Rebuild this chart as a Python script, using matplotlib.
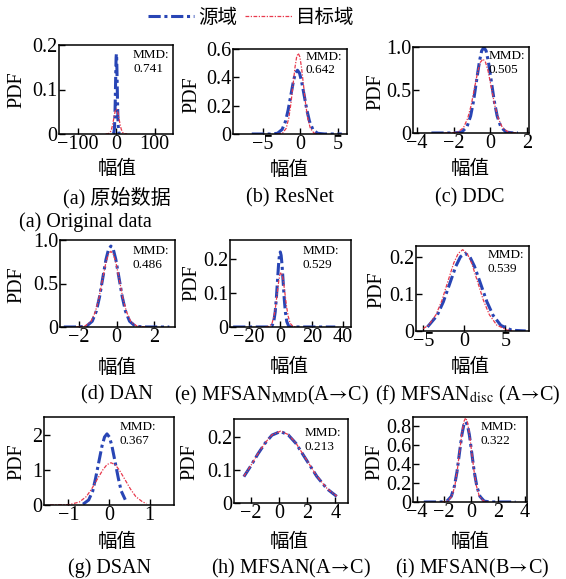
import matplotlib
matplotlib.use("Agg")
import matplotlib.pyplot as plt
from matplotlib.lines import Line2D

plt.rcParams['font.family'] = ['Liberation Serif', 'STIXGeneral', 'Noto Sans CJK SC', 'DejaVu Sans']
plt.rcParams['mathtext.fontset'] = 'stix'
plt.rcParams['axes.unicode_minus'] = True

W, H = 566, 579

# ---------------- data ----------------
legend_labels = ['源域', '目标域']
titles = ['(a) 原始数据', '(b) ResNet', '(c) DDC',
          '(d) DAN', r'(e) MFSAN$_{\mathrm{MMD}}$(A$\!\rightarrow\!$C)',
          r'(f) MFSAN$_{\mathrm{disc}}$ (A$\!\rightarrow\!$C)',
          '(g) DSAN', r'(h) MFSAN(A$\!\rightarrow\!$C)', r'(i) MFSAN(B$\!\rightarrow\!$C)']
mmd_values = ['0.741', '0.642', '0.505', '0.486', '0.529', '0.539', '0.367', '0.213', '0.322']

# (a) original data
a_src_x = [-8.8, -6.6, -5.1, -4.0, -3.1, -2.2, -1.3, -0.7, 0, 0.7, 1.3, 2.2, 3.1, 4.0, 5.1, 6.6, 8.8]
a_src_y = [0.0001, 0.002, 0.013, 0.036, 0.068, 0.109, 0.150, 0.172, 0.180, 0.172, 0.150, 0.109, 0.068, 0.036, 0.013, 0.002, 0.0001]
a_tgt_x = [-28, -21, -16, -12.6, -9.8, -7, -4.2, -2.1, 0, 2.1, 4.2, 7, 9.8, 12.6, 16, 21, 28]
a_tgt_y = [0, 0.0006, 0.004, 0.011, 0.021, 0.034, 0.047, 0.054, 0.056, 0.054, 0.047, 0.034, 0.021, 0.011, 0.004, 0.0006, 0]
# (b) ResNet
b_src_x = [-6.5, -4.0, -3.07, -2.45, -2.0, -1.65, -1.29, -0.93, -0.67, -0.4, -0.13, 0.13, 0.49, 0.85, 1.2, 1.65, 2.27, 3.2, 5.5]
b_src_y = [0, 0.0001, 0.005, 0.032, 0.089, 0.169, 0.273, 0.376, 0.430, 0.45, 0.430, 0.376, 0.273, 0.169, 0.089, 0.032, 0.005, 0.0001, 0]
b_tgt_x = [-3.1, -2.4, -1.91, -1.56, -1.28, -1.0, -0.72, -0.51, -0.3, -0.09, 0.12, 0.4, 0.68, 0.96, 1.31, 1.8, 2.5]
b_tgt_y = [0.0002, 0.006, 0.040, 0.113, 0.214, 0.346, 0.476, 0.545, 0.57, 0.545, 0.476, 0.346, 0.214, 0.113, 0.040, 0.006, 0.0002]
# (c) DDC
c_src_x = [-3.2, -1.95, -1.55, -1.27, -1.07, -0.91, -0.75, -0.59, -0.47, -0.35, -0.23, -0.11, 0.05, 0.21, 0.37, 0.57, 0.85, 1.25, 1.5]
c_src_y = [0, 0.0003, 0.011, 0.071, 0.198, 0.375, 0.607, 0.835, 0.956, 0.995, 0.956, 0.835, 0.607, 0.375, 0.198, 0.071, 0.011, 0.0003, 0]
c_tgt_x = [-2.5, -2.24, -1.78, -1.46, -1.23, -1.04, -0.86, -0.68, -0.54, -0.4, -0.26, -0.12, 0.06, 0.24, 0.43, 0.66, 0.98, 1.44]
c_tgt_y = [0, 0.0003, 0.009, 0.061, 0.170, 0.323, 0.522, 0.718, 0.822, 0.86, 0.822, 0.718, 0.522, 0.323, 0.170, 0.061, 0.009, 0.0003]
# (d) DAN
d_src_x = [-2.8, -2.02, -1.59, -1.29, -1.07, -0.90, -0.73, -0.56, -0.43, -0.3, -0.17, -0.04, 0.13, 0.30, 0.47, 0.69, 0.99, 1.42, 2.8]
d_src_y = [0, 0.0003, 0.010, 0.066, 0.184, 0.349, 0.565, 0.777, 0.889, 0.93, 0.889, 0.777, 0.565, 0.349, 0.184, 0.066, 0.010, 0.0003, 0]
d_tgt_x = [-2.14, -1.68, -1.36, -1.13, -0.94, -0.76, -0.58, -0.44, -0.3, -0.16, -0.02, 0.16, 0.34, 0.53, 0.76, 1.08, 1.54]
d_tgt_y = [0.0003, 0.010, 0.062, 0.172, 0.326, 0.528, 0.726, 0.832, 0.87, 0.832, 0.726, 0.528, 0.326, 0.172, 0.062, 0.010, 0.0003]
# (e) MFSAN_MMD
e_src_x = [-30, -7.2, -5.4, -4.14, -3.24, -2.52, -1.8, -1.08, -0.54, 0, 0.54, 1.08, 1.8, 2.52, 3.24, 4.14, 5.4, 7.2, 35]
e_src_y = [0, 0.0001, 0.002, 0.016, 0.044, 0.083, 0.134, 0.184, 0.210, 0.22, 0.210, 0.184, 0.134, 0.083, 0.044, 0.016, 0.002, 0.0001, 0]
e_tgt_x = [-9.5, -7.0, -5.25, -4.0, -3.0, -2.0, -1.0, -0.25, 0.5, 1.25, 2.0, 3.0, 4.0, 5.0, 6.25, 8.0, 10.5]
e_tgt_y = [0, 0.002, 0.011, 0.032, 0.060, 0.097, 0.134, 0.153, 0.16, 0.153, 0.134, 0.097, 0.060, 0.032, 0.011, 0.002, 0]
# (f) MFSAN_disc
f_src_x = [-4.5, -3.32, -2.56, -1.8, -1.04, -0.47, 0.1, 0.67, 1.24, 2.0, 2.76, 3.52, 4.47, 5.8, 7.5]
f_src_y = [0.011, 0.042, 0.079, 0.127, 0.175, 0.201, 0.21, 0.201, 0.175, 0.127, 0.079, 0.042, 0.015, 0.002, 0.0001]
f_tgt_x = [-5.0, -4.36, -3.46, -2.73, -2.01, -1.29, -0.74, -0.2, 0.34, 0.89, 1.61, 2.33, 3.06, 3.96, 5.23, 6.0]
f_tgt_y = [0.0066, 0.016, 0.044, 0.083, 0.134, 0.184, 0.210, 0.22, 0.210, 0.184, 0.134, 0.083, 0.044, 0.016, 0.0024, 0.0006]
# (g) DSAN
g_src_x = [-0.64, -0.50, -0.40, -0.33, -0.25, -0.17, -0.11, -0.05, 0.01, 0.07, 0.15, 0.23, 0.30, 0.40]
g_src_y = [0.022, 0.143, 0.40, 0.758, 1.226, 1.687, 1.931, 2.02, 1.931, 1.687, 1.226, 0.758, 0.40, 0.15]
g_tgt_x = [-1.45, -0.97, -0.73, -0.56, -0.43, -0.29, -0.15, -0.05, 0.05, 0.15, 0.25, 0.39, 0.53, 0.66, 0.83, 0.92]
g_tgt_y = [0, 0.013, 0.085, 0.238, 0.45, 0.728, 1.002, 1.147, 1.2, 1.147, 1.002, 0.728, 0.45, 0.238, 0.085, 0.045]
# (h) MFSAN(A->C)
h_src_x = [-2.5, -2.0, -1.5, -1.0, -0.5, 0.1, 0.65, 1.2, 1.94, 2.68, 3.41, 4.1]
h_src_y = [0.080, 0.113, 0.149, 0.181, 0.206, 0.217, 0.207, 0.181, 0.131, 0.081, 0.043, 0.020]
h_tgt_x = [-2.5, -2.0, -1.5, -1.0, -0.5, 0.1, 0.65, 1.2, 1.94, 2.68, 3.41, 4.1]
h_tgt_y = [0.081, 0.114, 0.150, 0.182, 0.207, 0.218, 0.208, 0.182, 0.132, 0.082, 0.044, 0.021]
# (i) MFSAN(B->C)
i_src_x = [-3.5, -2.24, -1.78, -1.46, -1.23, -1.04, -0.86, -0.68, -0.54, -0.4, -0.26, -0.12, 0.06, 0.24, 0.43, 0.66, 0.98, 1.44, 3.3]
i_src_y = [0, 0.0003, 0.009, 0.060, 0.168, 0.319, 0.516, 0.710, 0.813, 0.85, 0.813, 0.710, 0.516, 0.319, 0.168, 0.060, 0.009, 0.0003, 0]
i_tgt_x = [-2.16, -1.72, -1.41, -1.19, -1.02, -0.84, -0.66, -0.53, -0.4, -0.27, -0.14, 0.04, 0.22, 0.39, 0.61, 0.92, 1.36]
i_tgt_y = [0.0003, 0.010, 0.063, 0.176, 0.334, 0.540, 0.743, 0.851, 0.89, 0.851, 0.743, 0.540, 0.334, 0.176, 0.063, 0.010, 0.0003]

src_x = [a_src_x, b_src_x, c_src_x, d_src_x, e_src_x, f_src_x, g_src_x, h_src_x, i_src_x]
src_y = [a_src_y, b_src_y, c_src_y, d_src_y, e_src_y, f_src_y, g_src_y, h_src_y, i_src_y]
tgt_x = [a_tgt_x, b_tgt_x, c_tgt_x, d_tgt_x, e_tgt_x, f_tgt_x, g_tgt_x, h_tgt_x, i_tgt_x]
tgt_y = [a_tgt_y, b_tgt_y, c_tgt_y, d_tgt_y, e_tgt_y, f_tgt_y, g_tgt_y, h_tgt_y, i_tgt_y]

x_ticks = [[-100, 0, 100], [-5, 0, 5], [-4, -2, 0, 2], [-2, 0, 2], [-20, 0, 20, 40],
           [-5, 0, 5], [-1, 0, 1], [-2, 0, 2, 4], [-4, -2, 0, 2, 4]]
y_ticks = [[0, 0.1, 0.2], [0, 0.2, 0.4, 0.6], [0, 0.5, 1.0], [0, 0.5, 1.0], [0, 0.1, 0.2],
           [0, 0.1, 0.2], [0, 1, 2], [0, 0.1, 0.2], [0, 0.2, 0.4, 0.6, 0.8]]
y_ticklabels = [['0', '0.1', '0.2'], ['0', '0.2', '0.4', '0.6'], ['0', '0.5', '1.0'], ['0', '0.5', '1.0'],
                ['0', '0.1', '0.2'], ['0', '0.1', '0.2'], ['0', '1', '2'], ['0', '0.1', '0.2'],
                ['0', '0.2', '0.4', '0.6', '0.8']]
x_lims = [(-150, 148), (-9, 6.2), (-4.2, 2.1), (-3.0, 3.1), (-32, 45), (-5.9, 7.9),
          (-1.6, 1.6), (-3.2, 4.9), (-4.3, 4.15)]
y_lims = [(0, 0.2), (0, 0.6), (0, 1.0), (0, 1.0), (0, 0.255), (0, 0.23), (0, 2.5), (0, 0.255), (0, 0.9)]

# ---------------- layout (pixels) ----------------
boxes = [(59, 45, 173, 134), (233, 49, 347, 134), (413, 47, 529, 133),
         (60, 240, 175, 327), (230, 240, 351, 327), (416, 246, 529, 331),
         (44, 417, 174, 505), (234, 419, 348, 503), (413, 417, 527, 502)]
mmd_pos = [(0.65, 0.95), (0.64, 0.98), (0.65, 0.96), (0.63, 0.94), (0.60, 0.94),
           (0.63, 0.96), (0.58, 0.95), (0.62, 0.90), (0.59, 0.95)]
ylabel_pos = [(17, 90), (192, 95), (376, 92), (17, 285), (192, 283), (377, 290),
              (17, 462), (190, 462), (375, 462)]
xlabel_pos = [(117, 169), (289, 170), (470, 169), (117, 368), (289, 367), (470, 367),
              (117, 542), (289, 542), (470, 542)]
title_pos = [(117, 198), (290, 198), (470, 198), (117, 395), (272, 395), (468, 395),
             (110, 568), (291, 568), (472, 568)]

BLUE = '#2845b5'
RED = '#e8394d'

fig = plt.figure(figsize=(W / 100, H / 100), dpi=100)

for k in range(9):
    L, T, R, B = boxes[k]
    ax = fig.add_axes([L / W, 1 - B / H, (R - L) / W, (B - T) / H])
    ax.plot(src_x[k], src_y[k], linestyle=(0, (4.0, 1.2, 1.0, 1.2)), color=BLUE, lw=2.2)
    ax.plot(tgt_x[k], tgt_y[k], linestyle=(0, (3.0, 1.2, 1.0, 1.2)), color=RED, lw=0.9)
    ax.set_xlim(*x_lims[k])
    ax.set_ylim(*y_lims[k])
    ax.set_xticks(x_ticks[k])
    ax.set_yticks(y_ticks[k])
    ax.set_yticklabels(y_ticklabels[k])
    ax.tick_params(direction='in', length=4, width=1, labelsize=14.5, pad=1)
    for s in ax.spines.values():
        s.set_linewidth(1.1)
    ax.text(mmd_pos[k][0], mmd_pos[k][1], 'MMD:\n' + mmd_values[k], transform=ax.transAxes,
            ha='left', va='top', fontsize=9.5, linespacing=1.15)
    fig.text(ylabel_pos[k][0] / W, 1 - ylabel_pos[k][1] / H, 'PDF', rotation=90,
             ha='center', va='center', fontsize=14.5)
    fig.text(xlabel_pos[k][0] / W, 1 - xlabel_pos[k][1] / H, '幅值',
             ha='center', va='center', fontsize=14)
    fig.text(title_pos[k][0] / W, 1 - title_pos[k][1] / H, titles[k],
             ha='center', va='center', fontsize=14.5)

fig.text(85 / W, 1 - 222 / H, '(a) Original data', ha='center', va='center', fontsize=14.5)

handles = [Line2D([], [], linestyle=(0, (4.0, 1.2, 1.0, 1.2)), color=BLUE, lw=2.2),
           Line2D([], [], linestyle=(0, (3.0, 1.2, 1.0, 1.2)), color=RED, lw=0.9)]
fig.legend(handles, legend_labels, loc='center', bbox_to_anchor=(251 / W, 1 - 18 / H),
           ncol=2, frameon=False, fontsize=14, handlelength=2.4, handletextpad=0.2,
           columnspacing=0.4, borderpad=0)

fig.savefig('out.png', dpi=100)
